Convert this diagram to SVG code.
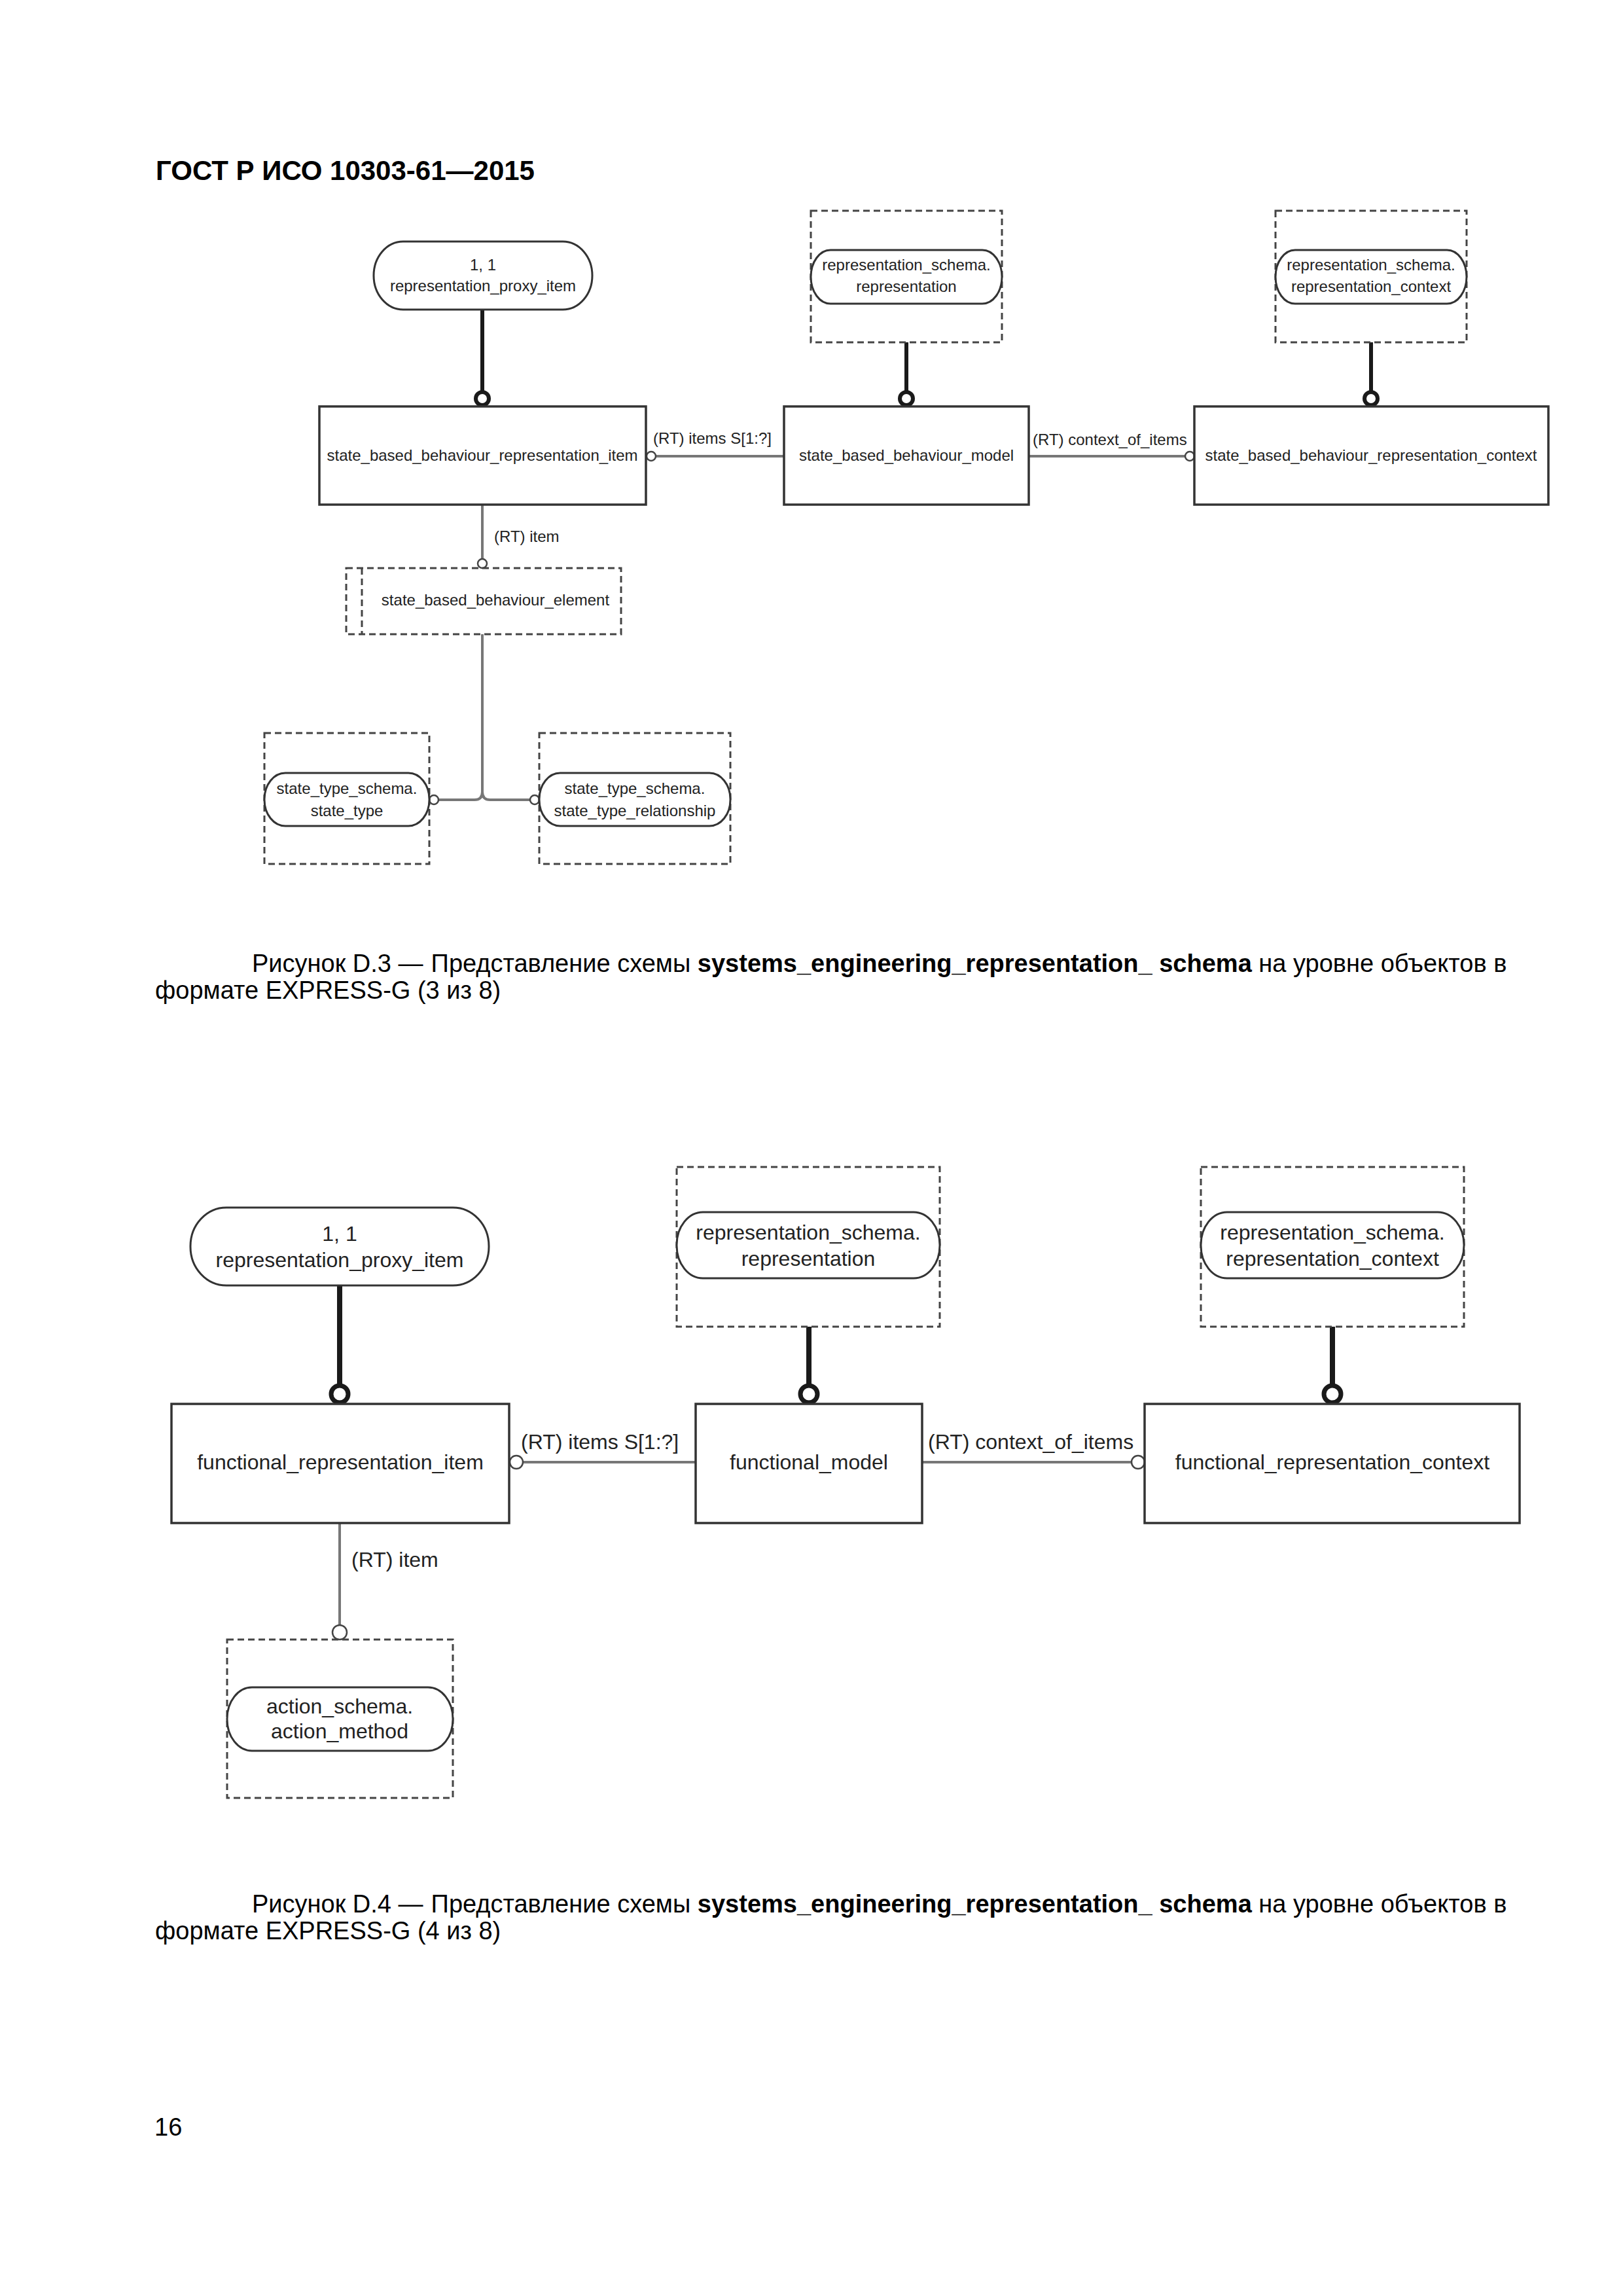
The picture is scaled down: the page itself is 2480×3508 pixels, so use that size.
<svg xmlns="http://www.w3.org/2000/svg" width="2480" height="3508" viewBox="0 0 2480 3508">
<style>
text{font-family:"Liberation Sans",Arial,sans-serif;fill:#222}
.hdr{font-size:42px;font-weight:bold;fill:#000}
.cap{font-size:38px;fill:#000}
.b{font-weight:bold}
.t1{font-size:24px;text-anchor:middle}
.l1{font-size:24px}
.t2{font-size:32px;text-anchor:middle}
.l2{font-size:32px}
.ent{fill:#fff;stroke:#333;stroke-width:3.5}
.pill{fill:#fff;stroke:#333;stroke-width:3}
.dash{fill:none;stroke:#444;stroke-width:3;stroke-dasharray:10 6}
.thin{fill:none;stroke:#777;stroke-width:4}
.thick1{fill:none;stroke:#1a1a1a;stroke-width:6}
.thick2{fill:none;stroke:#1a1a1a;stroke-width:8}
.oc1{fill:#fff;stroke:#1a1a1a;stroke-width:6}
.oc2{fill:#fff;stroke:#1a1a1a;stroke-width:7}
.sc{fill:#fff;stroke:#444;stroke-width:2.5}
</style>
<rect width="2480" height="3508" fill="#fff"/>
<text class="hdr" x="238" y="275">ГОСТ Р ИСО 10303-61—2015</text>

<!-- ============ Figure D.3 ============ -->
<g id="connectors-d3">
  <line class="thick1" x1="737" y1="473" x2="737" y2="599"/>
  <circle class="oc1" cx="737" cy="609" r="10"/>
  <line class="thick1" x1="1385" y1="523" x2="1385" y2="599"/>
  <circle class="oc1" cx="1385" cy="609" r="10"/>
  <line class="thick1" x1="2095" y1="523" x2="2095" y2="599"/>
  <circle class="oc1" cx="2095" cy="609" r="10"/>
  <line class="thin" x1="1002" y1="697" x2="1198" y2="697"/>
  <circle class="sc" cx="995" cy="697" r="7"/>
  <text class="l1" x="998" y="678">(RT) items S[1:?]</text>
  <line class="thin" x1="1572" y1="697" x2="1811" y2="697"/>
  <circle class="sc" cx="1818" cy="697" r="7"/>
  <text class="l1" x="1578" y="680">(RT) context_of_items</text>
  <line class="thin" x1="737" y1="771" x2="737" y2="854"/>
  <circle class="sc" cx="737" cy="861" r="7"/>
  <text class="l1" x="755" y="828">(RT) item</text>
  <path class="thin" d="M737,969 V1210 Q737,1222 725,1222 H670"/>
  <path class="thin" d="M737,1210 Q737,1222 749,1222 H810"/>
  <circle class="sc" cx="663" cy="1222" r="7"/>
  <circle class="sc" cx="817" cy="1222" r="7"/>
</g>

<g id="d3-representation_proxy_item">
  <rect class="pill" x="571" y="369" width="334" height="104" rx="45" ry="52"/>
  <text class="t1" x="738" y="413">1, 1</text>
  <text class="t1" x="738" y="445">representation_proxy_item</text>
</g>
<g id="d3-state_based_behaviour_representation_item">
  <rect class="ent" x="488" y="621" width="499" height="150"/>
  <text class="t1" x="737" y="704">state_based_behaviour_representation_item</text>
</g>
<g id="d3-state_based_behaviour_model">
  <rect class="ent" x="1198" y="621" width="374" height="150"/>
  <text class="t1" x="1385" y="704">state_based_behaviour_model</text>
</g>
<g id="d3-state_based_behaviour_representation_context">
  <rect class="ent" x="1825" y="621" width="541" height="150"/>
  <text class="t1" x="2095" y="704">state_based_behaviour_representation_context</text>
</g>
<g id="d3-representation_schema.representation">
  <rect class="dash" x="1239" y="322" width="292" height="201"/>
  <rect class="pill" x="1239" y="382" width="292" height="82" rx="30" ry="41"/>
  <text class="t1" x="1385" y="413">representation_schema.</text>
  <text class="t1" x="1385" y="446">representation</text>
</g>
<g id="d3-representation_schema.representation_context">
  <rect class="dash" x="1949" y="322" width="292" height="201"/>
  <rect class="pill" x="1949" y="382" width="292" height="82" rx="30" ry="41"/>
  <text class="t1" x="2095" y="413">representation_schema.</text>
  <text class="t1" x="2095" y="446">representation_context</text>
</g>
<g id="d3-state_based_behaviour_element">
  <rect class="dash" x="529" y="868" width="420" height="101"/>
  <line class="dash" x1="553" y1="868" x2="553" y2="969"/>
  <text class="t1" x="757" y="925">state_based_behaviour_element</text>
</g>
<g id="d3-state_type_schema.state_type">
  <rect class="dash" x="404" y="1120" width="252" height="200"/>
  <rect class="pill" x="404" y="1181" width="252" height="81" rx="32" ry="40"/>
  <text class="t1" x="530" y="1213">state_type_schema.</text>
  <text class="t1" x="530" y="1247">state_type</text>
</g>
<g id="d3-state_type_schema.state_type_relationship">
  <rect class="dash" x="824" y="1120" width="292" height="200"/>
  <rect class="pill" x="824" y="1181" width="292" height="81" rx="32" ry="40"/>
  <text class="t1" x="970" y="1213">state_type_schema.</text>
  <text class="t1" x="970" y="1247">state_type_relationship</text>
</g>

<text class="cap" x="385" y="1485">Рисунок D.3 —<tspan dx="12">Представление схемы </tspan><tspan class="b">systems_engineering_representation_ schema</tspan> на уровне объектов в</text>
<text class="cap" x="237" y="1526">формате EXPRESS-G (3 из 8)</text>

<!-- ============ Figure D.4 ============ -->
<g id="connectors-d4">
  <line class="thick2" x1="519" y1="1964" x2="519" y2="2116"/>
  <circle class="oc2" cx="519" cy="2130" r="13"/>
  <line class="thick2" x1="1236" y1="2027" x2="1236" y2="2116"/>
  <circle class="oc2" cx="1236" cy="2130" r="13"/>
  <line class="thick2" x1="2036" y1="2027" x2="2036" y2="2116"/>
  <circle class="oc2" cx="2036" cy="2130" r="13"/>
  <line class="thin" x1="799" y1="2234" x2="1063" y2="2234"/>
  <circle class="sc" cx="789" cy="2234" r="10"/>
  <text class="l2" x="796" y="2214">(RT) items S[1:?]</text>
  <line class="thin" x1="1409" y1="2234" x2="1729" y2="2234"/>
  <circle class="sc" cx="1739" cy="2234" r="10"/>
  <text class="l2" x="1418" y="2214">(RT) context_of_items</text>
  <line class="thin" x1="519" y1="2327" x2="519" y2="2483"/>
  <circle class="sc" cx="519" cy="2494" r="11"/>
  <text class="l2" x="537" y="2394">(RT) item</text>
</g>

<g id="d4-representation_proxy_item">
  <rect class="pill" x="291" y="1845" width="456" height="119" rx="55" ry="59"/>
  <text class="t2" x="519" y="1896">1, 1</text>
  <text class="t2" x="519" y="1936">representation_proxy_item</text>
</g>
<g id="d4-functional_representation_item">
  <rect class="ent" x="262" y="2145" width="516" height="182"/>
  <text class="t2" x="520" y="2245">functional_representation_item</text>
</g>
<g id="d4-functional_model">
  <rect class="ent" x="1063" y="2145" width="346" height="182"/>
  <text class="t2" x="1236" y="2245">functional_model</text>
</g>
<g id="d4-functional_representation_context">
  <rect class="ent" x="1749" y="2145" width="573" height="182"/>
  <text class="t2" x="2036" y="2245">functional_representation_context</text>
</g>
<g id="d4-representation_schema.representation">
  <rect class="dash" x="1034" y="1783" width="402" height="244"/>
  <rect class="pill" x="1034" y="1852" width="402" height="101" rx="40" ry="50"/>
  <text class="t2" x="1235" y="1894">representation_schema.</text>
  <text class="t2" x="1235" y="1934">representation</text>
</g>
<g id="d4-representation_schema.representation_context">
  <rect class="dash" x="1835" y="1783" width="402" height="244"/>
  <rect class="pill" x="1835" y="1852" width="402" height="101" rx="40" ry="50"/>
  <text class="t2" x="2036" y="1894">representation_schema.</text>
  <text class="t2" x="2036" y="1934">representation_context</text>
</g>
<g id="d4-action_schema.action_method">
  <rect class="dash" x="347" y="2505" width="345" height="242"/>
  <rect class="pill" x="347" y="2578" width="345" height="97" rx="38" ry="48"/>
  <text class="t2" x="519" y="2618">action_schema.</text>
  <text class="t2" x="519" y="2656">action_method</text>
</g>

<text class="cap" x="385" y="2922">Рисунок D.4 —<tspan dx="12">Представление схемы </tspan><tspan class="b">systems_engineering_representation_ schema</tspan> на уровне объектов в</text>
<text class="cap" x="237" y="2963">формате EXPRESS-G (4 из 8)</text>

<text class="cap" x="236" y="3263">16</text>
</svg>
